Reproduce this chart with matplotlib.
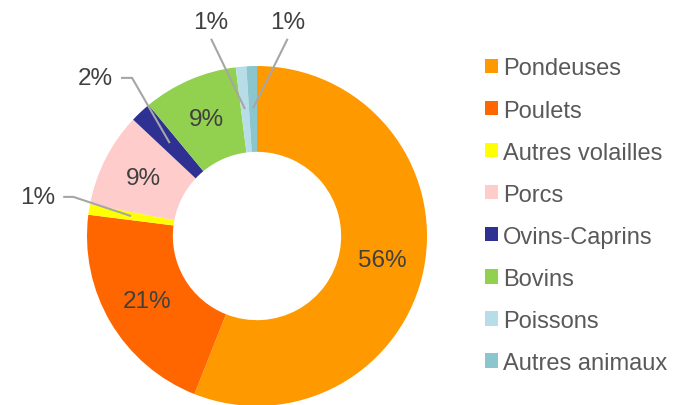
import numpy as np
import matplotlib
matplotlib.use("Agg")
import matplotlib.pyplot as plt

plt.rcParams['font.family'] = ['Liberation Sans', 'DejaVu Sans']

categories = ["Pondeuses", "Poulets", "Autres volailles", "Porcs",
              "Ovins-Caprins", "Bovins", "Poissons", "Autres animaux"]
shares = [56, 21, 1, 9, 2, 9, 1, 1]
colors = ["#FF9900", "#FF6600", "#FFFF00", "#FFCCCC",
          "#2E3192", "#92D050", "#B7DEE8", "#8BC6CF"]

# label placement for the small slices: (text x, text y, elbow x) in radius units
outside = {
    2: (-1.29, 0.23, -1.08),
    4: (-0.95, 0.93, -0.735),
    6: (-0.27, 1.26, None),
    7: (0.18, 1.26, None),
}

fig = plt.figure(figsize=(6.84, 4.06), dpi=100)
ax = fig.add_axes([87 / 684, -1 / 406, 340 / 684, 340 / 406])

wedges, _ = ax.pie(shares, colors=colors, startangle=90, counterclock=False,
                   radius=1.0, wedgeprops=dict(width=0.505, linewidth=0))
ax.set_xlim(-1, 1)
ax.set_ylim(-1, 1)
ax.set_aspect('equal')

label_color = "#404040"
total = sum(shares)
for i, w in enumerate(wedges):
    mid = np.deg2rad((w.theta1 + w.theta2) / 2)
    px, py = 0.75 * np.cos(mid), 0.75 * np.sin(mid)
    txt = f"{shares[i] / total * 100:.0f}%"
    if i in outside:
        tx, ty, ex = outside[i]
        if ex is not None:
            ax.plot([tx + 0.15, ex, px], [ty, ty, py], color="#A6A6A6",
                    lw=1.5, clip_on=False, solid_capstyle='butt')
        else:
            ax.plot([tx, px], [ty - 0.10, py], color="#A6A6A6",
                    lw=1.5, clip_on=False, solid_capstyle='butt')
        ax.text(tx, ty, txt, ha='center', va='center', fontsize=17.5,
                color=label_color, clip_on=False)
    else:
        ax.text(px, py, txt, ha='center', va='center', fontsize=17.5,
                color=label_color)

leg = fig.legend(wedges, categories, loc='upper left',
                 bbox_to_anchor=(476 / 684, 1 - 49 / 406), frameon=False,
                 fontsize=17, handlelength=0.55, handleheight=0.55,
                 handletextpad=0.2, labelspacing=0.85, borderaxespad=0)
for t in leg.get_texts():
    t.set_color("#595959")

fig.savefig("out.png", dpi=100)
